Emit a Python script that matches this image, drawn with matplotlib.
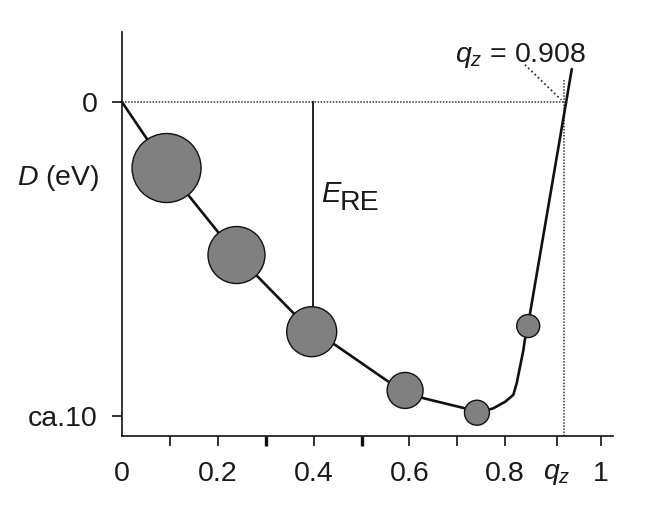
import matplotlib
matplotlib.use("Agg")
import matplotlib.pyplot as plt

plt.rcParams['font.family'] = ['Liberation Sans', 'DejaVu Sans']
plt.rcParams['mathtext.fontset'] = 'custom'
plt.rcParams['mathtext.rm'] = 'Liberation Sans'
plt.rcParams['mathtext.it'] = 'Liberation Sans:italic'

# ---- data ----
q_z = 0.908
qz_line = 0.922
marker_x = [0.093, 0.239, 0.396, 0.591, 0.741, 0.848]
marker_y = [-2.10, -4.87, -7.31, -9.18, -9.89, -7.13]
marker_diam_px = [69, 57, 50, 36, 25, 23]

curve_x = [0.0, 0.093, 0.239, 0.396, 0.445, 0.556, 0.591, 0.630, 0.716,
           0.741, 0.775, 0.800, 0.817, 0.824, 0.831, 0.838, 0.841, 0.848, 0.852, 0.939]
curve_y = [0.0, -2.10, -4.87, -7.31, -7.73, -8.90, -9.18, -9.43, -9.75,
           -9.89, -9.75, -9.54, -9.32, -8.95, -8.42, -7.89, -7.57, -7.13, -6.71, 1.05]

x_ticks = [0.0, 0.1, 0.2, 0.3, 0.4, 0.5, 0.6, 0.7, 0.8, q_z, 1.0]
x_tick_labels = ['0', '', '0.2', '', '0.4', '', '0.6', '', '0.8', '$q_z$', '1']
y_ticks = [0, -10]
y_tick_labels = ['0', 'ca.10']
e_re_x = 0.398
e_re_bottom = -7.31

fig = plt.figure(figsize=(6.7, 5.27), dpi=100)
ax = fig.add_axes([0.1821, 0.1733, 0.7328, 0.7654])
ax.set_xlim(0, 1.025)
ax.set_ylim(-10.62, 2.22)

for s in ['top', 'right']:
    ax.spines[s].set_visible(False)
for s in ['left', 'bottom']:
    ax.spines[s].set_linewidth(1.2)
    ax.spines[s].set_color('#111111')

ax.set_xticks(x_ticks)
ax.set_xticklabels(x_tick_labels)
ax.set_yticks(y_ticks)
ax.set_yticklabels(y_tick_labels)
ax.tick_params(axis='both', direction='out', length=7.5, width=1.2,
               labelsize=20.5, colors='#111111', labelcolor='#1a1a1a')
ax.tick_params(axis='x', pad=11)
ax.tick_params(axis='y', pad=10)
xt = ax.xaxis.get_major_ticks()
xt[0].tick1line.set_visible(False)
for i in (3, 5):
    xt[i].tick1line.set_markeredgewidth(2.4)

# dotted reference lines
ax.plot([0, 0.93], [0, 0], linestyle=(0, (1, 1.0)), color='#333333', lw=1.1, zorder=1)
ax.plot([qz_line, qz_line], [-10.62, 0.7], linestyle=(0, (1, 1.0)), color='#333333',
        lw=1.1, zorder=1)
ax.plot([0.841, 0.917], [1.19, 0.07], linestyle=(0, (1, 1.5)), color='#333333',
        lw=1.3, zorder=1)

# E_RE line
ax.plot([e_re_x, e_re_x], [0, e_re_bottom], color='#111111', lw=1.3, zorder=1)

# curve
ax.plot(curve_x, curve_y, color='#111111', lw=1.9, zorder=2,
        solid_joinstyle='round', solid_capstyle='round')

# circles
sizes = [(d * 72 / 100) ** 2 for d in marker_diam_px]
ax.scatter(marker_x, marker_y, s=sizes, facecolor='#808080', edgecolor='#111111',
           linewidth=1.0, zorder=3)

# texts
ax.text(0.415, -3.17, '$E$', fontsize=21, color='#1a1a1a', ha='left', va='baseline')
ax.text(0.454, -3.43, 'RE', fontsize=20.5, color='#1a1a1a', ha='left', va='baseline')
ax.text(0.695, 1.28, '$q_z$ = 0.908', fontsize=20.5, color='#1a1a1a', ha='left',
        va='baseline')
ax.text(-0.046, -2.41, '$D$ (eV)', fontsize=20.5, color='#1a1a1a', ha='right',
        va='center', clip_on=False)

fig.savefig('out.png', dpi=100)
